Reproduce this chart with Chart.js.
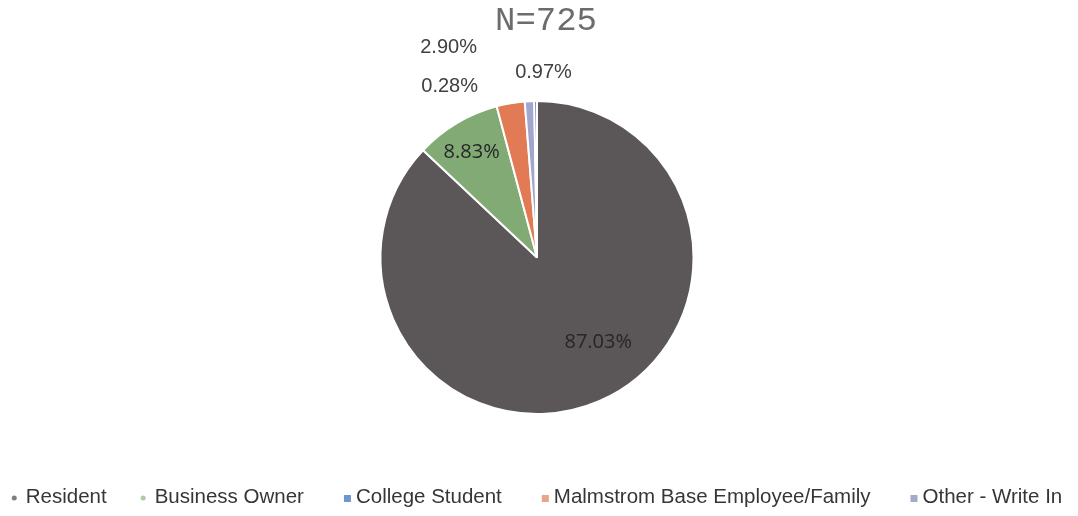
<!DOCTYPE html>
<html>
<head>
<meta charset="utf-8">
<script src="https://cdn.jsdelivr.net/npm/chart.js@4.4.0/dist/chart.umd.min.js"></script>
<style>
  html, body { margin: 0; padding: 0; background: #fff; }
  #wrap { width: 1078px; height: 516px; }
</style>
</head>
<body>
<div id="wrap"><canvas id="respondents"></canvas></div>
<script>
// slices, clockwise from 12 o'clock
const categories = ['Resident', 'Business Owner', 'Malmstrom Base Employee/Family', 'Other - Write In', 'College Student'];
const shares = [87.03, 8.83, 2.90, 0.97, 0.28];
const sliceColors = ['#5b5657', '#82aa75', '#e27b55', '#a2a6cc', '#4d69b6'];

// legend is listed in survey order, not slice order
const legendOrder = ['Resident', 'Business Owner', 'College Student', 'Malmstrom Base Employee/Family', 'Other - Write In'];
const legendColors = ['#7f7f7f', '#aecaa5', '#7096d0', '#e9a58a', '#a4aac8'];
const legendMarkers = ['dot', 'dot', 'square', 'square', 'square'];

const chartTitle = 'N=725';

// [fraction of radius along the slice middle, dx, dy]
const labelPlacement = [[0.6, 24, -1], [0.79, -2, 1], [1, -62, -56], [1, 14, -29], [1, -86, -15]];
const labelInside = [true, true, false, false, false];

const sliceLabels = {
  id: 'sliceLabels',
  afterDatasetsDraw(chart) {
    const ctx = chart.ctx;
    const meta = chart.getDatasetMeta(0);
    ctx.save();
    ctx.textAlign = 'center';
    ctx.textBaseline = 'middle';
    meta.data.forEach((arc, i) => {
      const { x, y, startAngle, endAngle, outerRadius } = arc.getProps(['x', 'y', 'startAngle', 'endAngle', 'outerRadius'], true);
      const mid = (startAngle + endAngle) / 2;
      const [f, dx, dy] = labelPlacement[i];
      const px = x + Math.cos(mid) * outerRadius * f + dx;
      const py = y + Math.sin(mid) * outerRadius * f + dy;
      if (labelInside[i]) {
        ctx.font = '20px "Open Sans"';
        ctx.fillStyle = '#262626';
      } else {
        ctx.font = '20px "Liberation Sans"';
        ctx.fillStyle = '#404040';
      }
      ctx.fillText(shares[i].toFixed(2) + '%', px, py);
    });
    ctx.restore();
  }
};

// title sits a little right of the pie centre
const topTitle = {
  id: 'topTitle',
  afterDraw(chart) {
    const ctx = chart.ctx;
    const cx = (chart.chartArea.left + chart.chartArea.right) / 2 + 9;
    ctx.save();
    ctx.font = '34px "Liberation Mono"';
    ctx.fillStyle = '#6c6c6c';
    ctx.textAlign = 'center';
    ctx.textBaseline = 'middle';
    ctx.fillText(chartTitle, cx, 21);
    ctx.restore();
  }
};

// single row legend under the pie
const bottomLegend = {
  id: 'bottomLegend',
  afterDraw(chart) {
    const ctx = chart.ctx;
    const rowY = chart.height - 19;
    ctx.save();
    ctx.font = '20.5px "Liberation Sans"';
    ctx.textBaseline = 'middle';
    const isDot = legendMarkers.map(m => m === 'dot');
    const markerW = isDot.map(d => (d ? 5 : 7));
    const markerGap = isDot.map(d => (d ? 9 : 5));
    const gapBefore = isDot.map((d, i) => (i === 0 ? 0 : d ? 34 : 40));
    const widths = legendOrder.map((t, i) => markerW[i] + markerGap[i] + ctx.measureText(t).width);
    const total = widths.reduce((a, b) => a + b, 0) + gapBefore.reduce((a, b) => a + b, 0);
    let x = (chart.chartArea.left + chart.chartArea.right) / 2 - total / 2;
    legendOrder.forEach((t, i) => {
      x += gapBefore[i];
      ctx.fillStyle = legendColors[i];
      if (isDot[i]) {
        ctx.beginPath();
        ctx.arc(x + 2.5, rowY + 1, 2.5, 0, Math.PI * 2);
        ctx.fill();
      } else {
        ctx.fillRect(x, rowY - 2, 7, 7);
      }
      ctx.fillStyle = '#363636';
      ctx.fillText(t, x + markerW[i] + markerGap[i], rowY);
      x += widths[i];
    });
    ctx.restore();
  }
};

new Chart(document.getElementById('respondents'), {
  type: 'pie',
  data: {
    labels: categories,
    datasets: [{
      data: shares,
      backgroundColor: sliceColors,
      borderColor: '#ffffff',
      borderWidth: 2
    }]
  },
  options: {
    responsive: true,
    maintainAspectRatio: false,
    animation: false,
    layout: { padding: { top: 100, right: 4, bottom: 101 } },
    plugins: {
      legend: { display: false },
      tooltip: { enabled: false },
      title: { display: false }
    }
  },
  plugins: [sliceLabels, topTitle, bottomLegend]
});
</script>
</body>
</html>
